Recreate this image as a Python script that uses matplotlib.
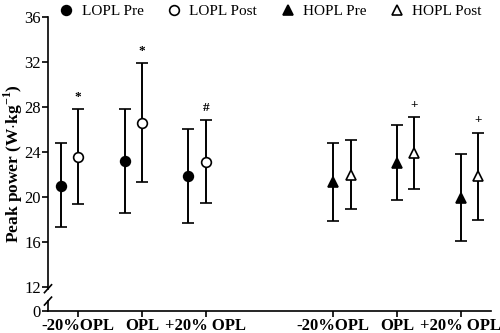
import matplotlib
matplotlib.use("Agg")
import matplotlib.pyplot as plt

# === DATA ===
groups = ["-20%OPL", "OPL", "+20% OPL"]
lopl_pre = [21.0, 23.2, 21.9]
lopl_pre_hi = [24.8, 27.8, 26.0]
lopl_pre_lo = [17.3, 18.6, 17.7]
lopl_post = [23.6, 26.6, 23.1]
lopl_post_hi = [27.8, 31.9, 26.8]
lopl_post_lo = [19.4, 21.3, 19.5]
hopl_pre = [21.3, 23.0, 19.9]
hopl_pre_hi = [24.8, 26.4, 23.8]
hopl_pre_lo = [17.9, 19.7, 16.1]
hopl_post = [22.0, 23.9, 21.9]
hopl_post_hi = [25.1, 27.1, 25.7]
hopl_post_lo = [18.9, 20.7, 18.0]
lopl_marks = ["*", "*", "#"]
hopl_marks = ["", "+", "+"]
yticks = [12, 16, 20, 24, 28, 32, 36]

# === STYLE ===
plt.rcParams["font.family"] = "Liberation Serif"
plt.rcParams["mathtext.fontset"] = "custom"
plt.rcParams["mathtext.rm"] = "Liberation Serif"
plt.rcParams["mathtext.bf"] = "Liberation Serif:bold"

ZERO = 12 - 24 / 11.25  # where "0" sits below the axis break
OFF = 0.27

fig = plt.figure(figsize=(5, 3.33), dpi=100)
ax = fig.add_axes([0.096, 0.066, 0.886, 0.883])


def draw(xs, ys, hi, lo, marker, face, label):
    yerr = [[y - l for y, l in zip(ys, lo)], [h - y for y, h in zip(ys, hi)]]
    c = ax.errorbar(xs, ys, yerr=yerr, fmt=marker, color="black", mfc=face, mec="black",
                    ms=7 if marker == "o" else 7.5, mew=1.2, elinewidth=1.4,
                    capsize=4.5, capthick=1.4, label=label, zorder=3)
    return c[0]


lx = [1, 2, 3]
hx = [5, 6, 7]
handles = [
    draw([x - OFF for x in lx], lopl_pre, lopl_pre_hi, lopl_pre_lo, "o", "black", "LOPL Pre"),
    draw(lx, lopl_post, lopl_post_hi, lopl_post_lo, "o", "white", "LOPL Post"),
    draw(hx, hopl_pre, hopl_pre_hi, hopl_pre_lo, "^", "black", "HOPL Pre"),
    draw([x + OFF for x in hx], hopl_post, hopl_post_hi, hopl_post_lo, "^", "white", "HOPL Post"),
]

for x, h, m in zip(lx, lopl_post_hi, lopl_marks):
    if m:
        ax.text(x, h + 1.1, m, ha="center", va="center", fontsize=9.5, fontweight="bold")
for x, h, m in zip(hx, hopl_post_hi, hopl_marks):
    if m:
        ax.text(x + OFF, h + 1.1, m, ha="center", va="center", fontsize=9.5, fontweight="bold")

ax.set_xlim(0.53, 7.47)
ax.set_ylim(ZERO, 36)
ax.set_xticks(lx + hx)
ax.set_xticklabels(groups + groups, fontsize=12, fontweight="bold")
ax.set_yticks([ZERO] + yticks)
ax.set_yticklabels(["0"] + [str(t) for t in yticks], fontsize=12)
ax.tick_params(width=1.2, length=4, pad=1)
ax.set_ylabel(r"Peak power (W$\cdot$kg$^{\mathbf{-1}}$)", fontsize=12.5, fontweight="bold")
ax.yaxis.set_label_coords(-0.052, 0.5)

for s in ["top", "right"]:
    ax.spines[s].set_visible(False)
for s in ["left", "bottom"]:
    ax.spines[s].set_linewidth(1.2)

# broken y axis
up, low = 11.85, 10.75
ax.spines["left"].set_bounds(up, 36)
tr = ax.get_yaxis_transform()
ax.plot([0, 0], [ZERO, low], color="black", lw=1.2, transform=tr, clip_on=False)
dx, dy = 0.008, 0.35
for yb in (up, low):
    ax.plot([-dx, dx], [yb - dy, yb + dy], color="black", lw=1.2, transform=tr, clip_on=False)

ax.legend(handles=handles, labels=["LOPL Pre", "LOPL Post", "HOPL Pre", "HOPL Post"],
          loc="lower center", bbox_to_anchor=(0.5, 0.975), ncol=4, frameon=False,
          fontsize=11, handletextpad=0.4, columnspacing=1.4, borderaxespad=0, handlelength=1.2)

fig.savefig("out.png", dpi=100)
